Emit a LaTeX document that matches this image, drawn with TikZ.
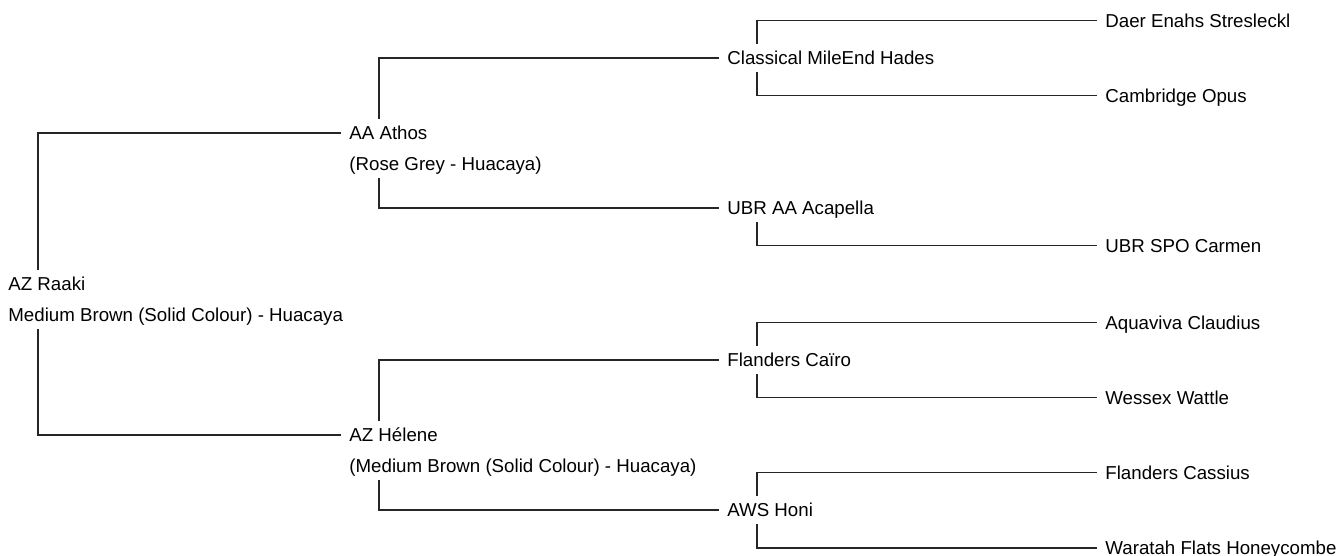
\documentclass[tikz,border=0pt]{standalone}
\usepackage{fontspec}
\setmainfont{Liberation Sans}
\usetikzlibrary{positioning}

\tikzset{
  animal/.style={anchor=west, inner xsep=4pt, inner ysep=1.5pt,
    text height=8.8pt, text depth=2.2pt, font=\fontsize{9.35}{11}\selectfont},
  colour/.style={animal, below right=1pt and 0pt of #1.south west},
  link/.style={line width=0.75pt, black!85},
}

\begin{document}
\begin{tikzpicture}[x=0.5pt, y=-0.5pt]
  \useasboundingbox (0,0) rectangle (1343,556);
  \clip (0,0) rectangle (1343,556);

  % generation 0
  \node[animal] (raaki) at (0,284) {AZ Raaki};
  \node[colour=raaki] (raakic) {Medium Brown (Solid Colour) - Huacaya};

  % generation 1
  \node[animal] (athos) at (341,133) {AA Athos};
  \node[colour=athos] (athosc) {(Rose Grey - Huacaya)};
  \node[animal] (helene) at (341,435) {AZ Hélene};
  \node[colour=helene] (helenec) {(Medium Brown (Solid Colour) - Huacaya)};

  % generation 2
  \node[animal] (hades) at (719,58) {Classical MileEnd Hades};
  \node[animal] (acapella) at (719,208) {UBR AA Acapella};
  \node[animal] (cairo) at (719,360) {Flanders Caïro};
  \node[animal] (honi) at (719,510) {AWS Honi};

  % generation 3
  \node[animal] (daer) at (1097,20.5) {Daer Enahs Stresleckl};
  \node[animal] (opus) at (1097,95.5) {Cambridge Opus};
  \node[animal] (carmen) at (1097,245.5) {UBR SPO Carmen};
  \node[animal] (claudius) at (1097,322.5) {Aquaviva Claudius};
  \node[animal] (wattle) at (1097,397.5) {Wessex Wattle};
  \node[animal] (cassius) at (1097,472.5) {Flanders Cassius};
  \node[animal] (honeycombe) at (1097,548) {Waratah Flats Honeycombe};

  % sire above, dam below
  \foreach \p/\q/\s/\d in {raaki/raakic/athos/helene, athos/athosc/hades/acapella,
      helene/helenec/cairo/honi, hades/hades/daer/opus,
      cairo/cairo/claudius/wattle, honi/honi/cassius/honeycombe} {
    \draw[link] ([xshift=19pt]\p.north west) |- (\s.west);
    \draw[link] ([xshift=19pt]\q.south west) |- (\d.west);
  }
  \draw[link] ([xshift=19pt]acapella.south west) |- (carmen.west);
\end{tikzpicture}
\end{document}
